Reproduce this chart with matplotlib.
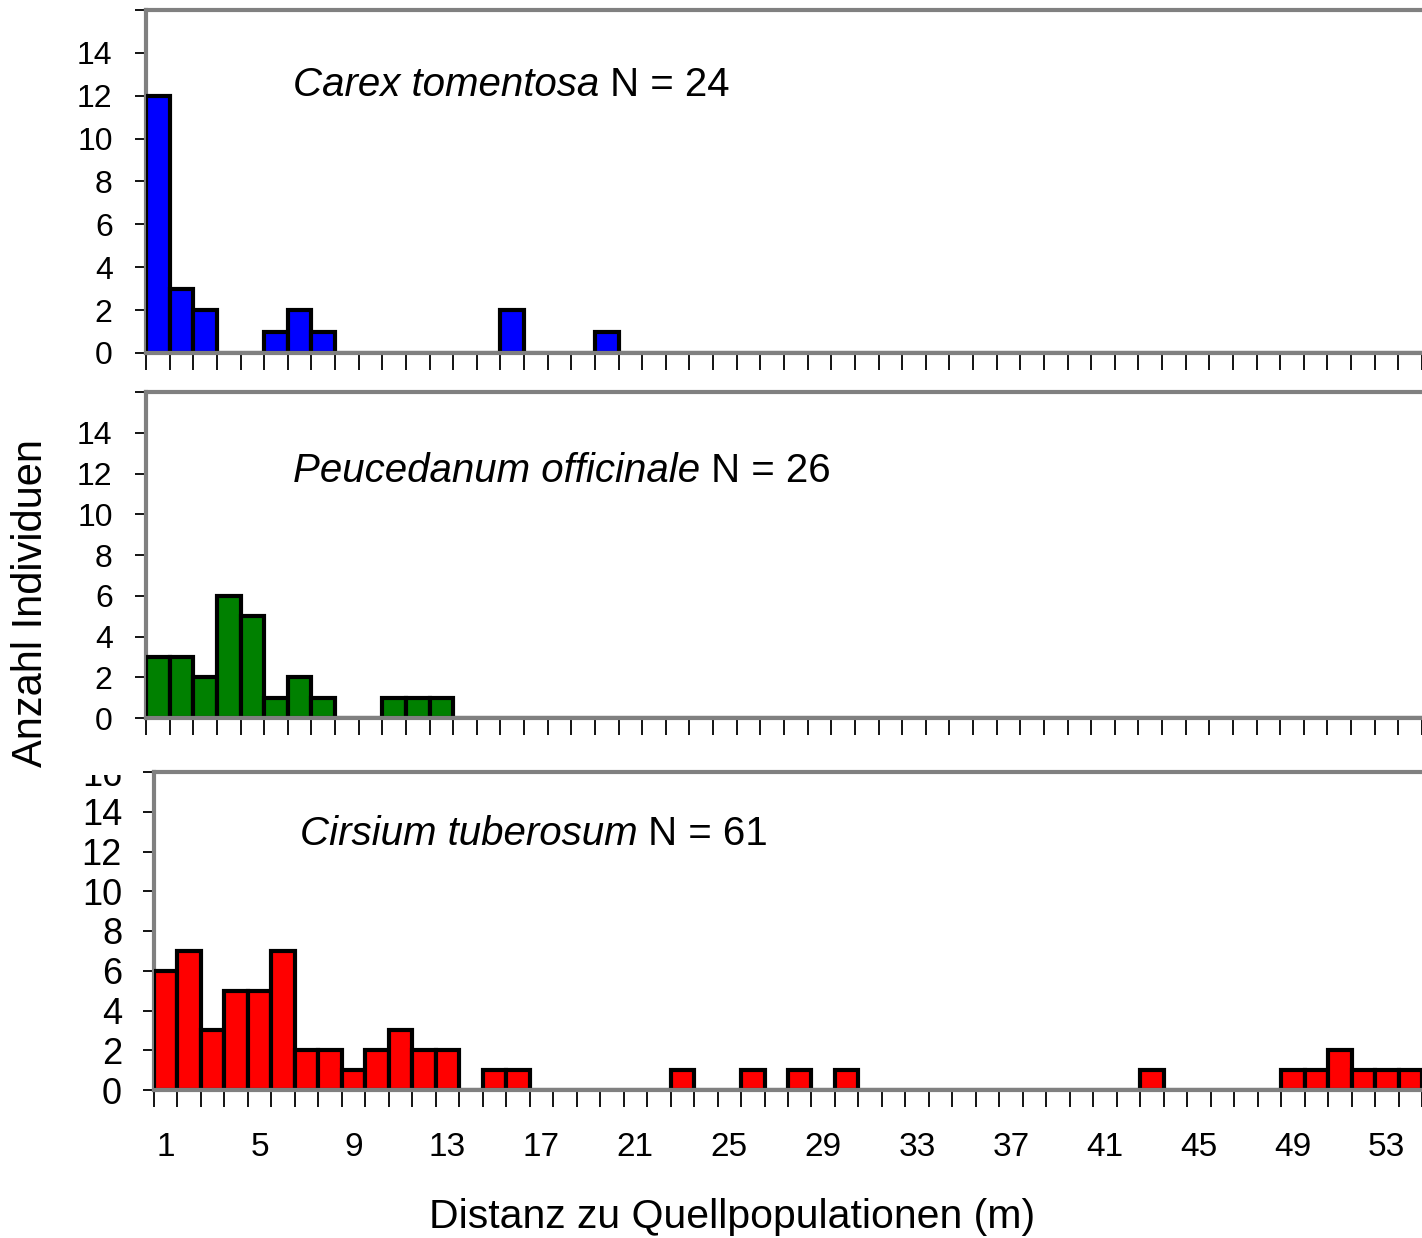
import numpy as np
import matplotlib.pyplot as plt
from matplotlib.transforms import Bbox

plt.rcParams['font.family'] = ['Liberation Sans', 'DejaVu Sans']

# Distanzklassen 1..54 m
distanz = list(range(1, 55))

# Anzahl Individuen je Distanzklasse
carex = [12, 3, 2, 0, 0, 1, 2, 1, 0, 0, 0, 0, 0, 0, 0, 2, 0, 0, 0, 1,
         0, 0, 0, 0, 0, 0, 0, 0, 0, 0, 0, 0, 0, 0, 0, 0, 0, 0, 0, 0,
         0, 0, 0, 0, 0, 0, 0, 0, 0, 0, 0, 0, 0, 0]
peucedanum = [3, 3, 2, 6, 5, 1, 2, 1, 0, 0, 1, 1, 1, 0, 0, 0, 0, 0, 0, 0,
              0, 0, 0, 0, 0, 0, 0, 0, 0, 0, 0, 0, 0, 0, 0, 0, 0, 0, 0, 0,
              0, 0, 0, 0, 0, 0, 0, 0, 0, 0, 0, 0, 0, 0]
cirsium = [6, 7, 3, 5, 5, 7, 2, 2, 1, 2, 3, 2, 2, 0, 1, 1, 0, 0, 0, 0,
           0, 0, 1, 0, 0, 1, 0, 1, 0, 1, 0, 0, 0, 0, 0, 0, 0, 0, 0, 0,
           0, 0, 1, 0, 0, 0, 0, 0, 1, 1, 2, 1, 1, 1]

arten = ['Carex tomentosa', 'Peucedanum officinale', 'Cirsium tuberosum']
farben = ['#0000ff', '#008000', '#ff0000']
werte = [carex, peucedanum, cirsium]
x_labels = list(range(1, 55, 4))

W, H = 1422, 1238
fig = plt.figure(figsize=(W / 100, H / 100), dpi=100)

# Achsen in Pixeln: links, oben, unten
boxes = [(146, 10, 353), (146, 392, 718), (154, 772, 1090)]
px_unit = 23.67

axes = []
for i, (l, t, b) in enumerate(boxes):
    ax = fig.add_axes([l / W, 1 - b / H, (W - l) / W, (b - t) / H])
    axes.append(ax)
    ax.bar(distanz, werte[i], width=1.0, color=farben[i], edgecolor='black',
           linewidth=3, zorder=3)
    ax.set_xlim(0.5, 0.5 + (W - l) / px_unit)
    ax.set_ylim(0, 16)
    ax.set_yticks(range(0, 17, 2))
    ax.set_yticklabels([str(v) for v in range(0, 15, 2)] + [''])
    # Ticks zwischen den Balken
    ax.set_xticks(np.arange(0.5, 55, 1.0))
    ax.set_xticklabels([])
    ax.tick_params(axis='x', direction='out', length=12, width=1.3, color='black')
    ax.tick_params(axis='y', direction='out', length=8, width=1.3, color='black',
                   labelsize=23, pad=16)
    for s in ['left', 'top', 'bottom']:
        ax.spines[s].set_color('#808080')
        ax.spines[s].set_linewidth(3)
    ax.spines['right'].set_visible(False)
    ax.spines['bottom'].set_zorder(4)

    # Beschriftung: Artname kursiv, N normal
    n = sum(werte[i])
    y_base = [0.725, 0.70, 0.745][i]
    t1 = ax.text(0.115, y_base, arten[i], transform=ax.transAxes, fontsize=29,
                 style='italic', va='bottom', ha='left')
    ax.annotate(' N = %d' % n, xy=(1, 0), xycoords=t1, fontsize=29,
                va='bottom', ha='left')

# unterste Achse: Zahlen an 1, 5, 9, ..., y-Beschriftung etwas groesser
ax3 = axes[2]
ax3.set_yticks(range(0, 17, 2))
ax3.set_yticklabels([str(v) for v in range(0, 17, 2)])
ax3.tick_params(axis='y', labelsize=26, pad=15)
for v in x_labels:
    ax3.text(v, -0.182, str(v), transform=ax3.get_xaxis_transform(),
             ha='center', va='center', fontsize=24)

# "16" oben abgeschnitten wie im Original
clip = Bbox.from_extents(0, 0, 150, H - 775)
for lab in ax3.get_yticklabels():
    lab.set_clip_box(clip)
    lab.set_clip_on(True)

fig.text(31 / W, 1 - 603 / H, 'Anzahl Individuen', rotation=90,
         ha='center', va='center', fontsize=30)
fig.text(732 / W, 1 - 1217 / H, 'Distanz zu Quellpopulationen (m)',
         ha='center', va='center', fontsize=29.5)

fig.savefig('out.png', dpi=100)
